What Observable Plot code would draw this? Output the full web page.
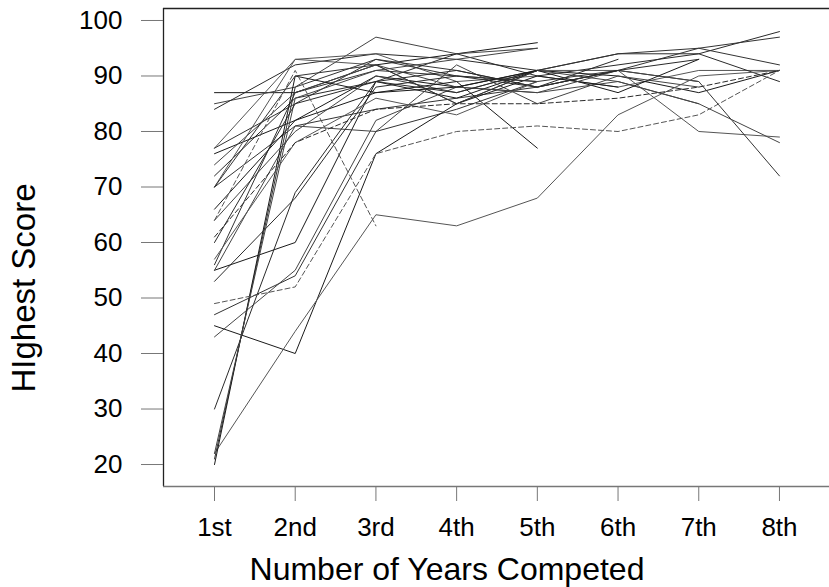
<!DOCTYPE html>
<html>
<head>
<meta charset="utf-8">
<script src="https://cdn.jsdelivr.net/npm/d3@7"></script>
<script src="https://cdn.jsdelivr.net/npm/@observablehq/plot@0.6"></script>
<style>
  html, body { margin: 0; padding: 0; background: #fff; }
  svg { display: block; }
</style>
</head>
<body>
<div id="chart"></div>
<script>
// ---- Data ----
const years = [1, 2, 3, 4, 5, 6, 7, 8];
const yearLabels = ["1st", "2nd", "3rd", "4th", "5th", "6th", "7th", "8th"];
const scoreTicks = [20, 30, 40, 50, 60, 70, 80, 90, 100];
const xTitle = "Number of Years Competed";
const yTitle = "HIghest Score";

// Highest score of each competitor, by year of competition (1st, 2nd, ...)
const athleteScores = [
  [87, 87, 92, 94, 96],
  [85, 88, 97, 94, 95],
  [84, 92, 94, 93, 91, 94, 94, 98],
  [77, 93, 94, 89, 90, 88, 91, 91],
  [77, 85, 93, 91, 88, 91, 95, 97],
  [76, 82, 90, 88, 91, 90, 87, 91],
  [74, 87, 92, 88, 87, 89, 85],
  [72, 86, 89, 94, 90, 92, 94, 89],
  [70, 93, 92, 85, 91, 91, 80, 79],
  [70, 81, 84, 86, 88, 91, 89, 72],
  [66, 82, 87, 89, 77],
  [64, 80, 90, 87, 91, 89, 85, 78],
  [61, 78, 84, 85, 85, 86, 88, 91],
  [64, 91, 63],
  [56, 87, 91, 90, 89],
  [55, 60, 89, 86, 91, 87, 93],
  [55, 81, 80, 92, 85, 90, 88],
  [53, 68, 88, 90, 88, 93],
  [49, 52, 76, 80, 81, 80, 83, 91],
  [47, 54, 80, 84, 89],
  [45, 40, 76, 85, 90, 88],
  [43, 55, 82, 88, 87, 91, 89],
  [30, 69, 89, 87, 91],
  [22, 44, 65, 63, 68, 83, 90, 91],
  [21, 88, 93, 90, 89, 91],
  [20, 90, 87, 88, 91],
  [22, 86, 91, 93, 95],
  [60, 85, 89, 91, 88, 91, 93],
  [57, 78, 86, 83, 89],
  [70, 90, 92, 85, 91, 94, 95, 92]
];
// competitors drawn with a broken line
const dashedAthletes = [13, 14, 19];

// ---- Build the table ----
const rows = athleteScores.flatMap((vals, i) =>
  vals.map((v, j) => ({athlete: i + 1, year: years[j], score: v}))
);
const shades = ["#1a1a1a", "#444", "#2a2a2a", "#555", "#333"];
const shadeOf = d => shades[(d.athlete - 1) % shades.length];
const solidRows = rows.filter(d => !dashedAthletes.includes(d.athlete));
const dashedRows = rows.filter(d => dashedAthletes.includes(d.athlete));

const xDomain = [0.368, 8.62];
const yDomain = [16.04, 102.16];

const plot = Plot.plot({
  width: 829,
  height: 587,
  marginLeft: 163,
  marginRight: 0,
  marginTop: 8,
  marginBottom: 101,
  style: {fontFamily: "'Liberation Sans', Arial, sans-serif", background: "#fff", color: "#000"},
  x: {domain: xDomain},
  y: {domain: yDomain},
  marks: [
    Plot.line(solidRows, {x: "year", y: "score", z: "athlete", stroke: shadeOf, strokeWidth: 1}),
    Plot.line(dashedRows, {x: "year", y: "score", z: "athlete", stroke: shadeOf, strokeWidth: 1, strokeDasharray: "5,3"}),
    Plot.ruleX([xDomain[0]], {stroke: "#222", strokeWidth: 1.3}),
    Plot.ruleY([yDomain[1]], {stroke: "#222", strokeWidth: 1.3}),
    Plot.ruleY([yDomain[0]], {stroke: "#777", strokeWidth: 1.5}),
    Plot.axisY(scoreTicks, {tickSize: 22, tickPadding: 19, fontSize: 26, stroke: "#777", label: null}),
    Plot.axisX(years, {tickFormat: d => yearLabels[d - 1], tickSize: 15, tickPadding: 16, fontSize: 26, stroke: "#777", label: null})
  ]
});

document.getElementById("chart").appendChild(plot);

const svg = d3.select(plot);
svg.append("text")
  .attr("x", 447).attr("y", 580)
  .attr("text-anchor", "middle")
  .attr("font-size", 32)
  .attr("fill", "#000")
  .text(xTitle);
svg.append("text")
  .attr("transform", "translate(35,288) rotate(-90)")
  .attr("text-anchor", "middle")
  .attr("font-size", 33)
  .attr("fill", "#000")
  .text(yTitle);
</script>
</body>
</html>
